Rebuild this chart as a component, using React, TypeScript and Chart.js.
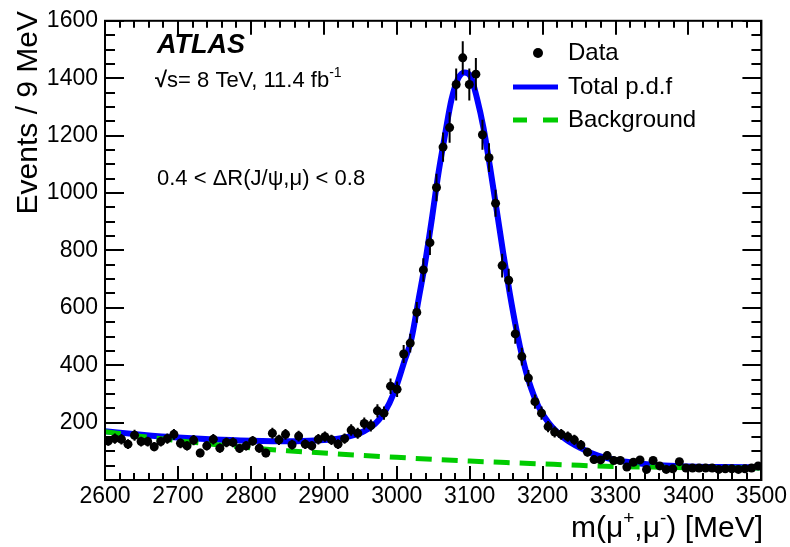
import React, { useEffect, useRef } from "react";
import { Chart, registerables } from "chart.js";

Chart.register(...registerables);

// ---------------- data ----------------
const massBins = [
  2604.5, 2613.5, 2622.5, 2631.5, 2640.5, 2649.5, 2658.5, 2667.5, 2676.5, 2685.5,
  2694.5, 2703.5, 2712.5, 2721.5, 2730.5, 2739.5, 2748.5, 2757.5, 2766.5, 2775.5,
  2784.5, 2793.5, 2802.5, 2811.5, 2820.5, 2829.5, 2838.5, 2847.5, 2856.5, 2865.5,
  2874.5, 2883.5, 2892.5, 2901.5, 2910.5, 2919.5, 2928.5, 2937.5, 2946.5, 2955.5,
  2964.5, 2973.5, 2982.5, 2991.5, 3000.5, 3009.5, 3018.5, 3027.5, 3036.5, 3045.5,
  3054.5, 3063.5, 3072.5, 3081.5, 3090.5, 3099.5, 3108.5, 3117.5, 3126.5, 3135.5,
  3144.5, 3153.5, 3162.5, 3171.5, 3180.5, 3189.5, 3198.5, 3207.5, 3216.5, 3225.5,
  3234.5, 3243.5, 3252.5, 3261.5, 3270.5, 3279.5, 3288.5, 3297.5, 3306.5, 3315.5,
  3324.5, 3333.5, 3342.5, 3351.5, 3360.5, 3369.5, 3378.5, 3387.5, 3396.5, 3405.5,
  3414.5, 3423.5, 3432.5, 3441.5, 3450.5, 3459.5, 3468.5, 3477.5, 3486.5, 3495.5,
];

const events = [
  136, 144, 142, 125, 156, 134, 134, 116, 134, 144,
  159, 128, 119, 139, 94, 119, 142, 111, 131, 131,
  110, 119, 136, 111, 94, 163, 140, 159, 123, 153,
  125, 119, 142, 151, 140, 125, 144, 174, 163, 197,
  190, 241, 233, 327, 316, 439, 477, 584, 732, 827,
  1019, 1160, 1228, 1378, 1471, 1378, 1414, 1203, 1123, 964,
  747, 696, 509, 430, 355, 273, 233, 186, 167, 159,
  151, 140, 122, 97, 71, 70, 85, 68, 68, 45,
  62, 70, 37, 68, 49, 37, 39, 64, 42, 42,
  42, 42, 42, 37, 39, 39, 37, 39, 42, 49,
];

const eventErrors = [
  17, 18, 18, 17, 19, 17, 17, 16, 17, 18,
  19, 17, 16, 18, 15, 16, 18, 16, 17, 17,
  16, 16, 17, 16, 15, 19, 18, 19, 17, 19,
  17, 16, 18, 18, 18, 17, 18, 20, 19, 21,
  21, 23, 23, 27, 27, 31, 33, 36, 41, 43,
  48, 51, 53, 56, 58, 56, 56, 52, 50, 47,
  41, 40, 34, 31, 28, 25, 23, 20, 19, 19,
  18, 18, 17, 15, 13, 13, 14, 12, 12, 10,
  12, 13, 9, 12, 11, 9, 9, 12, 10, 10,
  10, 10, 10, 9, 9, 9, 9, 9, 10, 11,
];

const fitMass = [
  2600, 2650, 2700, 2750, 2800, 2850, 2880, 2910, 2935, 2955,
  2970, 2980, 2990, 3000, 3010, 3020, 3030, 3039, 3048, 3057,
  3066, 3075, 3084, 3093, 3101, 3110, 3119, 3128, 3137, 3146,
  3155, 3164, 3173, 3181, 3194, 3208, 3230, 3253, 3276, 3300,
  3325, 3360, 3400, 3450, 3500,
];
const fitTotal = [
  170, 158, 148, 141, 137, 135, 137, 141, 152, 170,
  195, 225, 268, 330, 410, 490, 630, 758, 907, 1066,
  1200, 1325, 1398, 1420, 1408, 1330, 1226, 1089, 941, 790,
  650, 525, 420, 345, 258, 200, 145, 110, 85, 70,
  60, 51, 47, 45, 44,
];

const bkgMass = [
  2600, 2650, 2700, 2750, 2800, 2850, 2900, 2950, 3000, 3050,
  3100, 3150, 3200, 3250, 3300, 3350, 3400, 3450, 3500,
];
const bkgValues = [
  168, 152, 137, 124, 112, 102, 94, 86, 79, 72,
  66, 61, 56, 51, 47, 45, 43, 42, 42,
];

const xRange = [2600, 3500];
const yRange = [0, 1600];
const xMajorStep = 100;
const xMinorStep = 20;
const yMajorStep = 200;
const yMinorStep = 50;

const legendLabels = ["Data", "Total p.d.f", "Background"];

// ---------------- helpers ----------------
const FONT = '"Liberation Sans", Arial, Helvetica, sans-serif';

type Part = { t: string; sup?: boolean; bold?: boolean };

function drawRich(
  ctx: CanvasRenderingContext2D,
  parts: Part[],
  x: number,
  y: number,
  size: number,
  align: "left" | "right"
) {
  const fontFor = (p: Part) =>
    `${p.bold ? "bold " : ""}${p.sup ? Math.round(size * 0.62) : size}px ${FONT}`;
  const widths = parts.map((p) => {
    ctx.font = fontFor(p);
    return ctx.measureText(p.t).width;
  });
  const total = widths.reduce((a, b) => a + b, 0);
  let cx = align === "right" ? x - total : x;
  ctx.textAlign = "left";
  ctx.textBaseline = "alphabetic";
  parts.forEach((p, i) => {
    ctx.font = fontFor(p);
    ctx.fillText(p.t, cx, p.sup ? y - size * 0.45 : y);
    cx += widths[i];
  });
}

const rootStylePlugin = {
  id: "rootStyle",
  afterDatasetsDraw(chart: any) {
    const { ctx, chartArea: a, scales } = chart;
    const ys = scales.y;
    const meta = chart.getDatasetMeta(0);
    ctx.save();
    ctx.beginPath();
    ctx.rect(a.left, a.top, a.right - a.left, a.bottom - a.top);
    ctx.clip();
    ctx.strokeStyle = "#000";
    ctx.lineWidth = 2;
    meta.data.forEach((pt: any, i: number) => {
      const v = events[i];
      const e = eventErrors[i];
      const y1 = ys.getPixelForValue(v + e);
      const y2 = ys.getPixelForValue(v - e);
      ctx.beginPath();
      ctx.moveTo(pt.x, y1);
      ctx.lineTo(pt.x, y2);
      ctx.stroke();
    });
    ctx.restore();
  },
  afterDraw(chart: any) {
    const { ctx, chartArea: a, scales } = chart;
    const xs = scales.x;
    const ys = scales.y;
    ctx.save();
    ctx.strokeStyle = "#000";
    ctx.fillStyle = "#000";
    ctx.lineWidth = 2;
    ctx.strokeRect(a.left, a.top, a.right - a.left, a.bottom - a.top);

    // x ticks (bottom & top, inside)
    for (let v = xRange[0]; v <= xRange[1]; v += xMinorStep) {
      const px = Math.round(xs.getPixelForValue(v));
      const major = (v - xRange[0]) % xMajorStep === 0;
      const len = major ? 14 : 7;
      ctx.beginPath();
      ctx.moveTo(px, a.bottom);
      ctx.lineTo(px, a.bottom - len);
      ctx.moveTo(px, a.top);
      ctx.lineTo(px, a.top + len);
      ctx.stroke();
    }
    // y ticks (left & right, inside)
    for (let v = yRange[0]; v <= yRange[1]; v += yMinorStep) {
      const py = Math.round(ys.getPixelForValue(v));
      const major = (v - yRange[0]) % yMajorStep === 0;
      const len = major ? 19 : 10;
      ctx.beginPath();
      ctx.moveTo(a.left, py);
      ctx.lineTo(a.left + len, py);
      ctx.moveTo(a.right, py);
      ctx.lineTo(a.right - len, py);
      ctx.stroke();
    }

    // ATLAS label
    ctx.textAlign = "left";
    ctx.textBaseline = "alphabetic";
    ctx.font = `italic bold 27px ${FONT}`;
    ctx.fillText("ATLAS", 157, 53);

    drawRich(
      ctx,
      [
        { t: "\u221A", bold: true },
        { t: "s= 8 TeV, 11.4 fb" },
        { t: "-1", sup: true },
      ],
      155,
      87,
      22,
      "left"
    );

    ctx.font = `22px ${FONT}`;
    ctx.textAlign = "left";
    ctx.fillText("0.4 < \u0394R(J/\u03C8,\u03BC) < 0.8", 157, 185);

    // legend
    ctx.beginPath();
    ctx.arc(538, 53, 5, 0, Math.PI * 2);
    ctx.fill();
    ctx.lineWidth = 5;
    ctx.strokeStyle = "#0000ff";
    ctx.beginPath();
    ctx.moveTo(513, 87);
    ctx.lineTo(558, 87);
    ctx.stroke();
    ctx.strokeStyle = "#00cc00";
    ctx.beginPath();
    ctx.moveTo(513, 120);
    ctx.lineTo(527, 120);
    ctx.moveTo(543, 120);
    ctx.lineTo(558, 120);
    ctx.stroke();
    ctx.fillStyle = "#000";
    ctx.font = `24px ${FONT}`;
    ctx.textBaseline = "middle";
    ctx.fillText(legendLabels[0], 568, 53);
    ctx.fillText(legendLabels[1], 568, 87);
    ctx.fillText(legendLabels[2], 568, 120);

    // x axis title
    drawRich(
      ctx,
      [
        { t: "m(\u03BC" },
        { t: "+", sup: true },
        { t: ",\u03BC" },
        { t: "-", sup: true },
        { t: ") [MeV]" },
      ],
      763,
      537,
      30,
      "right"
    );

    // y axis title
    ctx.save();
    ctx.translate(37, 11);
    ctx.rotate(-Math.PI / 2);
    ctx.font = `30px ${FONT}`;
    ctx.textAlign = "right";
    ctx.textBaseline = "alphabetic";
    ctx.fillText("Events / 9 MeV", 0, 0);
    ctx.restore();

    ctx.restore();
  },
};

export default function App() {
  const canvasRef = useRef<HTMLCanvasElement | null>(null);

  useEffect(() => {
    const canvas = canvasRef.current;
    if (!canvas) return;
    const chart = new Chart(canvas, {
      type: "scatter",
      data: {
        datasets: [
          {
            label: legendLabels[0],
            data: massBins.map((m, i) => ({ x: m, y: events[i] })),
            showLine: false,
            pointRadius: 4.5,
            pointHoverRadius: 4.5,
            pointBackgroundColor: "#000",
            pointBorderWidth: 0,
            borderColor: "#000",
            backgroundColor: "#000",
            order: 0,
          },
          {
            label: legendLabels[2],
            data: bkgMass.map((m, i) => ({ x: m, y: bkgValues[i] })),
            showLine: true,
            pointRadius: 0,
            borderColor: "#00cc00",
            borderWidth: 5,
            borderDash: [16, 10],
            cubicInterpolationMode: "monotone",
            fill: false,
            order: 1,
          },
          {
            label: legendLabels[1],
            data: fitMass.map((m, i) => ({ x: m, y: fitTotal[i] })),
            showLine: true,
            pointRadius: 0,
            borderColor: "#0000ff",
            borderWidth: 6,
            cubicInterpolationMode: "monotone",
            fill: false,
            order: 2,
          },
        ],
      },
      options: {
        responsive: false,
        animation: false,
        devicePixelRatio: 1,
        layout: { padding: { left: 0, top: 14, right: 26, bottom: 0 } },
        plugins: {
          legend: { display: false },
          tooltip: { enabled: false },
          title: { display: false },
        },
        events: [],
        scales: {
          x: {
            type: "linear",
            min: xRange[0],
            max: xRange[1],
            grid: { display: false, drawTicks: false },
            border: { display: false },
            ticks: {
              stepSize: xMajorStep,
              color: "#000",
              font: { family: FONT, size: 23 },
              padding: 3,
              maxRotation: 0,
              autoSkip: false,
              callback: (v: any) => String(v),
            },
            afterFit: (s: any) => {
              s.height = 67;
            },
          },
          y: {
            type: "linear",
            min: yRange[0],
            max: yRange[1],
            grid: { display: false, drawTicks: false },
            border: { display: false },
            ticks: {
              stepSize: yMajorStep,
              color: "#000",
              font: { family: FONT, size: 23 },
              padding: 7,
              autoSkip: false,
              callback: (v: any) => (v === 0 ? "" : String(v)),
            },
            afterFit: (s: any) => {
              s.width = 105;
            },
          },
        },
      } as any,
      plugins: [rootStylePlugin],
    });
    return () => chart.destroy();
  }, []);

  return (
    <div
      style={{
        position: "absolute",
        left: 0,
        top: 0,
        width: 790,
        height: 547,
        background: "#fff",
      }}
    >
      <canvas ref={canvasRef} width={790} height={547} style={{ display: "block" }} />
    </div>
  );
}
